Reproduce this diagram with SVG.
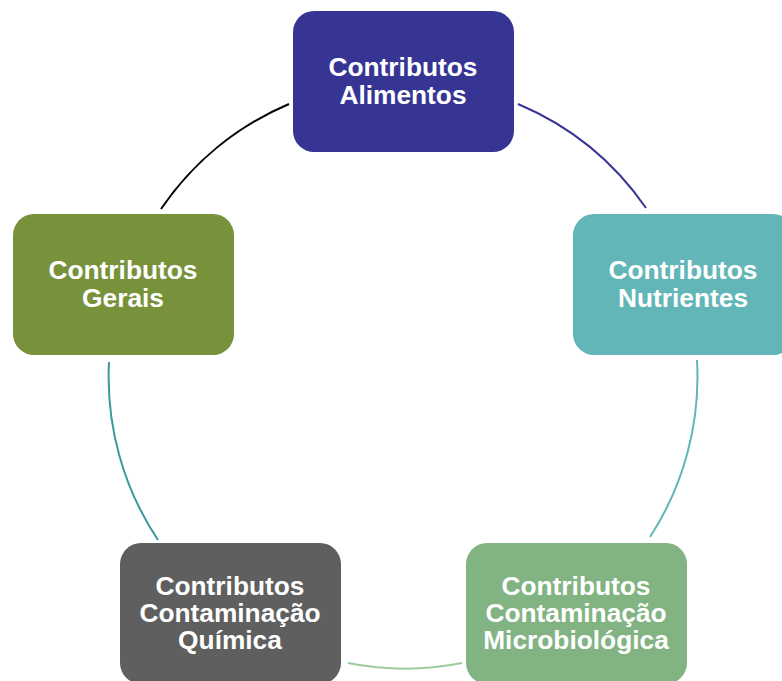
<svg xmlns="http://www.w3.org/2000/svg" width="782" height="681" viewBox="0 0 782 681">
<style>
.box{stroke:none}
.lbl{font-family:"Liberation Sans",Arial,sans-serif;font-weight:bold;font-size:26.3px;fill:#ffffff;text-anchor:middle}
.arc{fill:none;stroke-width:2}
</style>
<rect width="782" height="681" fill="#ffffff"/>
<g id="connectors">
<path class="arc" stroke="#363594" d="M518,104 A294,294 0 0 1 646,208"/>
<path class="arc" stroke="#62b6b7" d="M697,360 A294,294 0 0 1 650,537"/>
<path class="arc" stroke="#9ccc9d" d="M462,663 A294,294 0 0 1 348,663"/>
<path class="arc" stroke="#3a9a9f" d="M158,540 A294,294 0 0 1 109,362"/>
<path class="arc" stroke="#000000" d="M161,209 A294,294 0 0 1 289,104"/>
</g>
<g id="alimentos">
<rect class="box" x="293" y="11" width="221" height="141" rx="21" fill="#363594"/>
<text class="lbl" x="403" y="76">Contributos</text>
<text class="lbl" x="403" y="104">Alimentos</text>
</g>
<g id="nutrientes">
<rect class="box" x="573" y="214" width="221" height="141" rx="21" fill="#62b6b7"/>
<text class="lbl" x="683" y="279">Contributos</text>
<text class="lbl" x="683" y="307">Nutrientes</text>
</g>
<g id="microbiologica">
<rect class="box" x="466" y="543" width="221" height="141" rx="21" fill="#82b383"/>
<text class="lbl" x="576" y="595">Contributos</text>
<text class="lbl" x="576" y="622">Contaminação</text>
<text class="lbl" x="576" y="649">Microbiológica</text>
</g>
<g id="quimica">
<rect class="box" x="120" y="543" width="221" height="141" rx="21" fill="#5f5f5f"/>
<text class="lbl" x="230" y="595">Contributos</text>
<text class="lbl" x="230" y="622">Contaminação</text>
<text class="lbl" x="230" y="649">Química</text>
</g>
<g id="gerais">
<rect class="box" x="13" y="214" width="221" height="141" rx="21" fill="#77923b"/>
<text class="lbl" x="123" y="279">Contributos</text>
<text class="lbl" x="123" y="307">Gerais</text>
</g>
</svg>
